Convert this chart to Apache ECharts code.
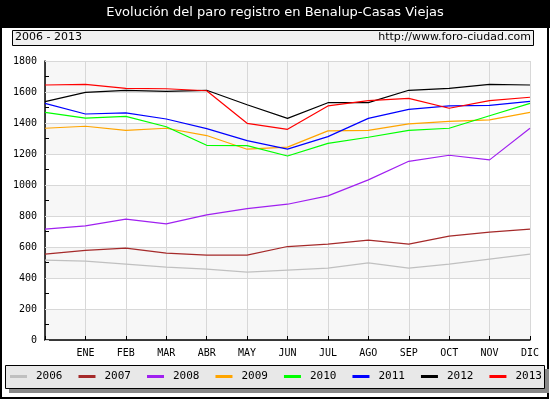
<!DOCTYPE html>
<html>
<head>
<meta charset="utf-8">
<script src="https://cdn.jsdelivr.net/npm/echarts@6/dist/echarts.min.js"></script>
<style>
  html, body { margin: 0; padding: 0; background: #fff; }
  #chart { width: 550px; height: 400px; }
</style>
</head>
<body>
<div id="chart"></div>
<script>
// meses (el primer punto es diciembre del año anterior, sin etiqueta)
var months = ['', 'ENE', 'FEB', 'MAR', 'ABR', 'MAY', 'JUN', 'JUL', 'AGO', 'SEP', 'OCT', 'NOV', 'DIC'];
var years = ['2006', '2007', '2008', '2009', '2010', '2011', '2012', '2013'];

var y2006 = [515, 509, 490, 470, 457, 438, 451, 464, 498, 464, 490, 522, 554];
var y2007 = [554, 578, 593, 560, 548, 548, 603, 619, 644, 619, 670, 696, 715];
var y2008 = [715, 736, 780, 749, 807, 848, 876, 930, 1033, 1153, 1192, 1162, 1366];
var y2009 = [1366, 1379, 1353, 1366, 1319, 1231, 1244, 1349, 1353, 1394, 1411, 1420, 1469];
var y2010 = [1469, 1432, 1443, 1376, 1256, 1254, 1187, 1269, 1308, 1353, 1366, 1447, 1527];
var y2011 = [1527, 1458, 1465, 1426, 1364, 1286, 1231, 1312, 1430, 1488, 1510, 1514, 1540];
var y2012 = [1538, 1598, 1611, 1604, 1611, 1518, 1430, 1531, 1531, 1611, 1624, 1649, 1645];
var y2013 = [1645, 1649, 1624, 1621, 1608, 1398, 1359, 1510, 1544, 1559, 1495, 1544, 1566];

var colors = ['#c0c0c0', '#a52a2a', '#a020f0', '#ffa500', '#00ff00', '#0000ff', '#000000', '#ff0000'];
var allData = [y2006, y2007, y2008, y2009, y2010, y2011, y2012, y2013];

var chart = echarts.init(document.getElementById('chart'));

var series = years.map(function (name, i) {
    return {
        name: name,
        type: 'line',
        data: allData[i],
        symbol: 'none',
        lineStyle: { color: colors[i], width: 1.2 },
        itemStyle: { color: colors[i] }
    };
});

var option = {
    animation: false,
    color: colors,
    graphic: [
        // marco exterior
        { type: 'rect', shape: { x: 1, y: 1, width: 547, height: 397 },
          style: { fill: '#fff', stroke: '#000', lineWidth: 2 }, z: -10 },
        // franja del título
        { type: 'rect', shape: { x: 0, y: 0, width: 550, height: 28 },
          style: { fill: '#000' }, z: -5 },
        { type: 'text', left: 'center', top: 6,
          style: { text: 'Evolución del paro registro en Benalup-Casas Viejas', fill: '#fff',
                   font: '13px "DejaVu Sans"' } },
        // caja del subtítulo
        { type: 'rect', shape: { x: 12.5, y: 30.5, width: 521, height: 15 },
          style: { fill: '#f0f0f0', stroke: '#000', lineWidth: 1 }, z: -5 },
        { type: 'text', left: 15, top: 32,
          style: { text: '2006 - 2013', fill: '#000', font: '11px "DejaVu Sans"' } },
        { type: 'text', right: 19, top: 32,
          style: { text: 'http://www.foro-ciudad.com', fill: '#000', font: '11px "DejaVu Sans"' } },
        // caja de la leyenda con sombra
        { type: 'rect', shape: { x: 9, y: 369, width: 540, height: 24 },
          style: { fill: '#888' }, z: -5 },
        { type: 'rect', shape: { x: 5.5, y: 365.5, width: 539, height: 23 },
          style: { fill: '#e8e8e8', stroke: '#000', lineWidth: 1 }, z: -4 }
    ],
    legend: {
        data: years,
        left: 10,
        top: 371,
        padding: 0,
        width: 540,
        icon: 'rect',
        itemWidth: 17,
        itemHeight: 3,
        itemGap: 16,
        textStyle: { fontFamily: 'DejaVu Sans Mono', fontSize: 11, color: '#000', padding: [0, 0, 0, 4] }
    },
    grid: { left: 45, right: 20, top: 61, bottom: 60 },
    xAxis: {
        type: 'category',
        data: months,
        boundaryGap: false,
        axisLine: { lineStyle: { color: '#000', width: 1.5 } },
        axisTick: { inside: true, length: 4, lineStyle: { color: '#000' } },
        axisLabel: { color: '#000', fontFamily: 'DejaVu Sans Mono', fontSize: 10, margin: 8 },
        splitLine: { show: true, lineStyle: { color: '#d8d8d8' } }
    },
    yAxis: {
        type: 'value',
        min: 0,
        max: 1800,
        interval: 200,
        axisLine: { show: true, lineStyle: { color: '#000', width: 1.5 } },
        // las marcas mayores quedan bajo la rejilla; las menores van hacia dentro
        axisTick: { show: true, inside: true, length: 4, lineStyle: { color: '#d8d8d8' } },
        minorTick: { show: true, splitNumber: 2, length: 4, lineStyle: { color: '#000' } },
        axisLabel: { color: '#000', fontFamily: 'DejaVu Sans Mono', fontSize: 10, margin: 8,
                     formatter: function (v) { return String(v); } },
        splitLine: { lineStyle: { color: '#d8d8d8' } },
        splitArea: { show: true, areaStyle: { color: ['#f7f7f7', '#ffffff'] } }
    },
    series: series
};

chart.setOption(option);
</script>
</body>
</html>
